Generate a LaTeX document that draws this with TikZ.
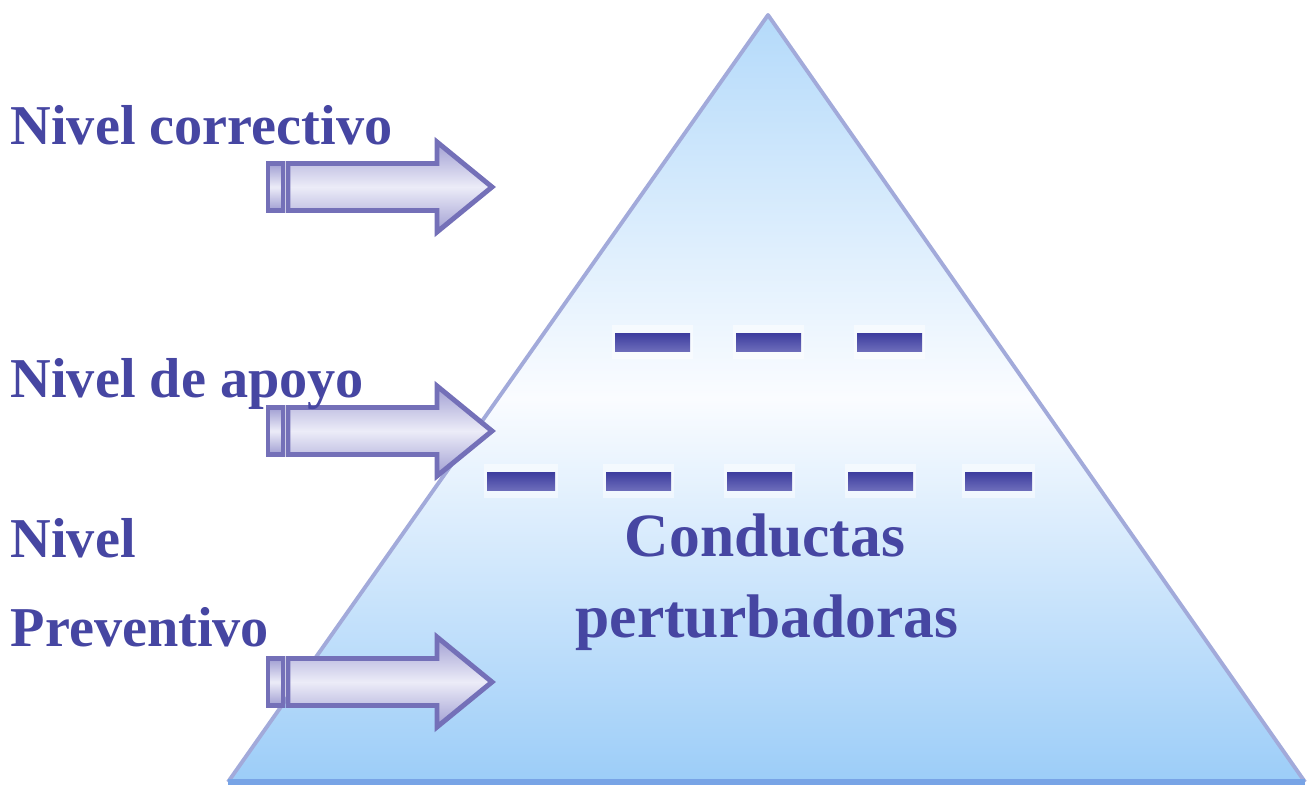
\documentclass[tikz,border=0pt]{standalone}
\usepackage{fontspec}
\setmainfont{Liberation Serif}

\definecolor{pyrTop}{HTML}{B4DAFA}
\definecolor{pyrMid}{HTML}{FAFCFF}
\definecolor{pyrBottom}{HTML}{9CCDF8}
\definecolor{pyrSide}{HTML}{A2AADA}
\definecolor{pyrBase}{HTML}{78A4E6}
\definecolor{arrowLine}{HTML}{7470B8}
\definecolor{arrowDark}{HTML}{A09ED2}
\definecolor{arrowLight}{HTML}{ECECF8}
\definecolor{dashDark}{HTML}{3C3C9E}
\definecolor{dashLight}{HTML}{6C6CBA}
\definecolor{levelText}{HTML}{4646A2}

% striped block arrow, tip at (492,#1)
\newcommand{\levelArrow}[1]{%
  \shade[arrowBody] (288,{#1-23.5}) -- (437,{#1-23.5}) -- (437,{#1-45}) -- (492,#1)
        -- (437,{#1+45}) -- (437,{#1+23.5}) -- (288,{#1+23.5}) -- cycle;
  \shade[arrowBody] (268,{#1-23.5}) rectangle (283,{#1+23.5});
}

\begin{document}
\begin{tikzpicture}
    [ x=0.01cm, y=-0.01cm,
      pyramid/.style={top color=pyrTop, bottom color=pyrBottom, middle color=pyrMid},
      side/.style={draw=pyrSide, line width=1.1pt, line join=round},
      base/.style={draw=pyrBase, line width=1.8pt},
      arrowBody/.style={draw=arrowLine, line width=1.4pt, line join=miter, top color=arrowDark, bottom color=arrowDark, middle color=arrowLight},
      halo/.style={fill=white, fill opacity=0.5},
      dashBar/.style={top color=dashDark, bottom color=dashLight},
      levelLabel/.style={font=\fontsize{16}{19}\selectfont\bfseries, text=levelText, inner sep=0pt, anchor=base west},
      centerLabel/.style={font=\fontsize{17.5}{21}\selectfont\bfseries, text=levelText, inner sep=0pt, anchor=base}]

  \useasboundingbox (0,0) rectangle (1313,794);

%%%%%%%%%%%%%%%%%%%%%%%%%%%%%%%%%%%%%%%%%%%%%%%%%%%%%%%%%%%%%%%%%%%%%%%%%%%%%%%%%%%%%%%%%%%%%%%%%%%%%%%%%%
%draw pyramid
	  \shade[pyramid] (768,15) -- (1305,782) -- (228,782) -- cycle;
	  \draw[side] (228,782) -- (768,15) -- (1305,782);
	  \draw[base] (228,782) -- (1305,782);

%%%%%%%%%%%%%%%%%%%%%%%%%%%%%%%%%%%%%%%%%%%%%%%%%%%%%%%%%%%%%%%%%%%%%%%%%%%%%%%%%%%%%%%%%%%%%%%%%%%%%%%%%%
%dashed level borders
	  \fill[halo]    (612,325) rectangle (693,359);
	  \fill[halo]    (733,325) rectangle (804,359);
	  \fill[halo]    (854,325) rectangle (925,359);
	  \shade[dashBar] (615,333) rectangle (690,351);
	  \shade[dashBar] (736,333) rectangle (801,351);
	  \shade[dashBar] (857,333) rectangle (922,351);

	  \fill[halo]    (484,464) rectangle (558,498);
	  \fill[halo]    (603,464) rectangle (674,498);
	  \fill[halo]    (724,464) rectangle (795,498);
	  \fill[halo]    (845,464) rectangle (916,498);
	  \fill[halo]    (962,464) rectangle (1035,498);
	  \shade[dashBar] (487,472) rectangle (555,490);
	  \shade[dashBar] (606,472) rectangle (671,490);
	  \shade[dashBar] (727,472) rectangle (792,490);
	  \shade[dashBar] (848,472) rectangle (913,490);
	  \shade[dashBar] (965,472) rectangle (1032,490);

%%%%%%%%%%%%%%%%%%%%%%%%%%%%%%%%%%%%%%%%%%%%%%%%%%%%%%%%%%%%%%%%%%%%%%%%%%%%%%%%%%%%%%%%%%%%%%%%%%%%%%%%%%
%level arrows
	  \levelArrow{187}
	  \levelArrow{431}
	  \levelArrow{682}

%%%%%%%%%%%%%%%%%%%%%%%%%%%%%%%%%%%%%%%%%%%%%%%%%%%%%%%%%%%%%%%%%%%%%%%%%%%%%%%%%%%%%%%%%%%%%%%%%%%%%%%%%%
%labels
	  \node[levelLabel] (lblCorrectivo) at (10,145) {Nivel correctivo};
	  \node[levelLabel] (lblApoyo) at (10,397) {Nivel de apoyo};
	  \node[levelLabel] (lblNivel) at (10,557) {Nivel};
	  \node[levelLabel] (lblPreventivo) at (10,646) {Preventivo};

	  \node[centerLabel] (lblConductas) at (765,556) {Conductas};
	  \node[centerLabel] (lblPerturb) at (767,637) {perturbadoras};

\end{tikzpicture}
\end{document}
